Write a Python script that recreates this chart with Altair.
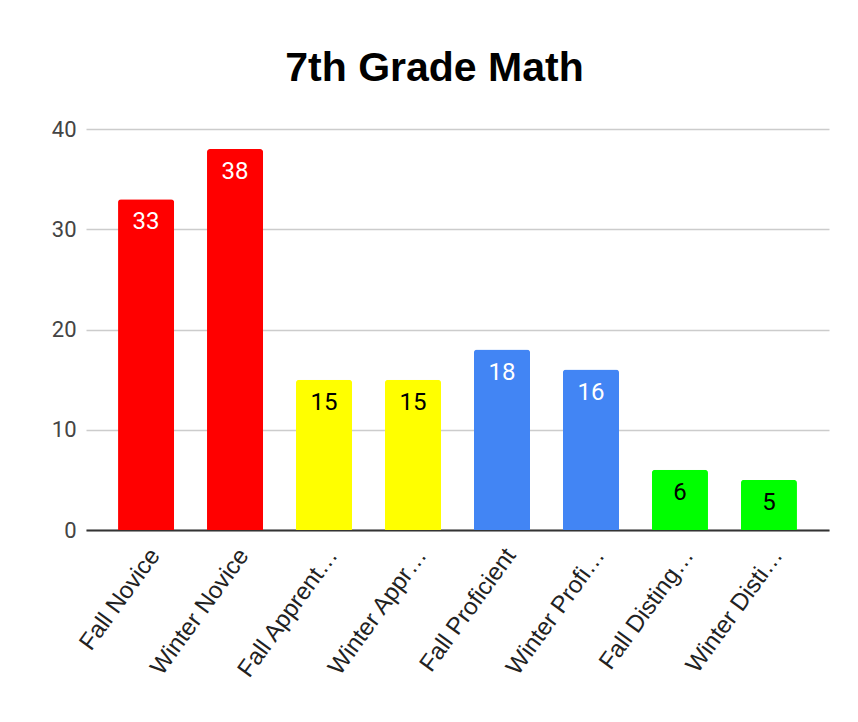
import altair as alt
import pandas as pd

title_text = "7th Grade Math"
categories = ["Fall Novice", "Winter Novice", "Fall Apprent…", "Winter Appr…",
              "Fall Proficient", "Winter Profi…", "Fall Disting…", "Winter Disti…"]
values = [33, 38, 15, 15, 18, 16, 6, 5]
bar_colors = ["#ff0000", "#ff0000", "#ffff00", "#ffff00",
              "#4285f4", "#4285f4", "#00ff00", "#00ff00"]
label_colors = ["#ffffff", "#ffffff", "#000000", "#000000",
                "#ffffff", "#ffffff", "#000000", "#000000"]
y_ticks = [0, 10, 20, 30, 40]

df = pd.DataFrame({"cat": categories, "value": values,
                   "bar_color": bar_colors, "label_color": label_colors})

x_enc = alt.X("cat:N", sort=categories, title=None,
              scale=alt.Scale(paddingInner=0.37, paddingOuter=0.36),
              axis=alt.Axis(labelAngle=-54, labelAlign="right", labelBaseline="middle",
                            labelFontSize=24, labelFont="Liberation Sans", labelColor="#222222",
                            labelPadding=21, labelOffset=9, ticks=False,
                            domainColor="#333333", domainWidth=2, labelLimit=300))
y_enc = alt.Y("value:Q", title=None,
              scale=alt.Scale(domain=[0, 40], nice=False),
              axis=alt.Axis(values=y_ticks, domain=False, ticks=False,
                            labelFontSize=22, labelFont="Roboto", labelColor="#444444",
                            labelPadding=10, gridColor="#cccccc", gridWidth=1.5))

bars = alt.Chart(df).mark_bar(cornerRadiusTopLeft=3, cornerRadiusTopRight=3).encode(
    x=x_enc, y=y_enc, color=alt.Color("bar_color:N", scale=None)
)

labels = alt.Chart(df).mark_text(baseline="middle", dy=23, fontSize=24, font="Roboto").encode(
    x=alt.X("cat:N", sort=categories),
    y=alt.Y("value:Q"),
    text=alt.Text("value:Q"),
    color=alt.Color("label_color:N", scale=None),
)

chart = alt.layer(bars, labels).properties(
    width=743, height=401,
    title=alt.TitleParams(title_text, font="Liberation Sans", fontSize=41, fontWeight="bold",
                          color="#000000", anchor="middle", offset=28, dx=-23),
    autosize=alt.AutoSizeParams(type="none"),
    padding={"left": 78, "top": 121, "right": 20, "bottom": 180},
    background="#ffffff",
).configure_view(stroke=None)

chart.save("out.html", embed_options={"renderer": "svg", "actions": False})
